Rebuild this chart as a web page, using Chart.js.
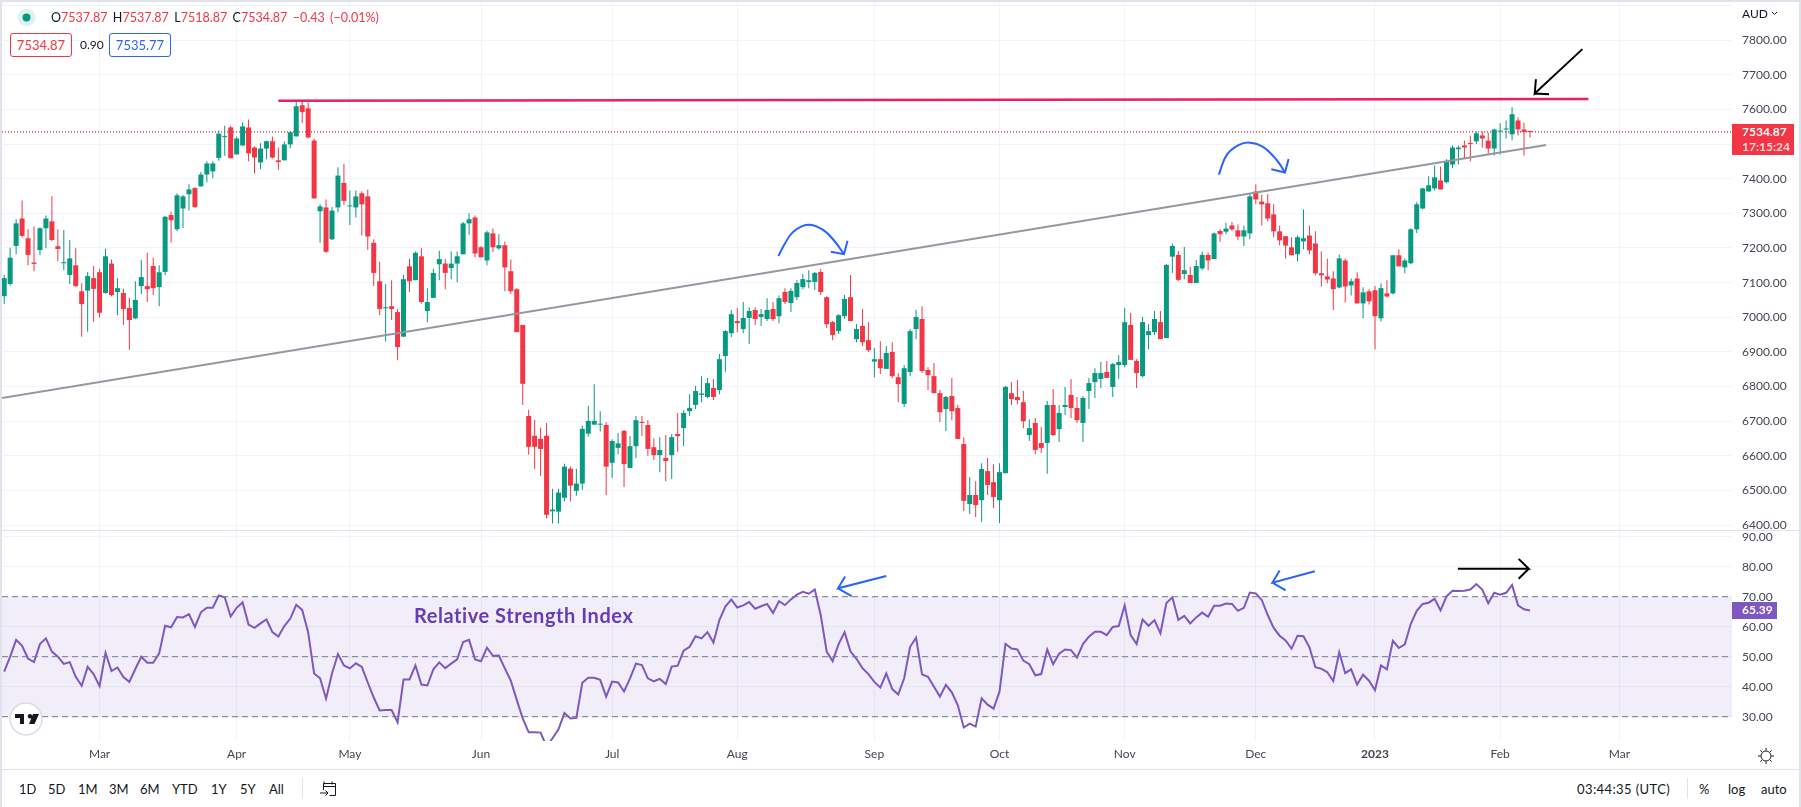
<!DOCTYPE html>
<html>
<head>
<meta charset="utf-8">
<title>AUD index daily with RSI</title>
<script src="https://cdn.jsdelivr.net/npm/chart.js@4/dist/chart.umd.min.js"></script>
<style>
  html, body { margin: 0; padding: 0; background: #fff; }
  #page { position: relative; width: 1801px; height: 807px; overflow: hidden; background: #fff; font-family: Lato, "Noto Sans", sans-serif; color: #131722; }
  canvas { position: absolute; left: 0; }
  #priceChart { top: 0; }
  #rsiChart { top: 531px; }
  .line { position: absolute; background: #e0e3eb; }
  .txt { position: absolute; white-space: nowrap; line-height: 16px; }
  .red { color: #f23645; }
  .box { position: absolute; top: 33px; height: 24px; line-height: 22px; border-radius: 3px; text-align: center; font-size: 13px; background: #fff; box-sizing: border-box; }
  .tool { top: 781px; font-size: 13px; }
</style>
</head>
<body>
<div id="page">
  <canvas id="priceChart" width="1801" height="531"></canvas>
  <canvas id="rsiChart" width="1801" height="238"></canvas>

  <div class="line" style="left:0;top:0;width:1801px;height:2px"></div>
  <div class="line" style="left:0;top:0;width:2px;height:807px"></div>
  <div class="line" style="left:1799px;top:0;width:2px;height:807px"></div>
  <div class="line" style="left:0;top:530px;width:1801px;height:1px"></div>
  <div class="line" style="left:0;top:769px;width:1801px;height:1px"></div>

  <!-- legend -->
  <svg style="position:absolute;left:17px;top:8px" width="19" height="19"><circle cx="9.5" cy="9.500" r="9" fill="#089981" opacity="0.13"/><circle cx="9.5" cy="9.500" r="4" fill="#089981"/></svg>
  <div class="txt" style="left:51px;top:10px;font-size:12.5px;word-spacing:2.200px">O<span class="red">7537.87</span> H<span class="red">7537.87</span> L<span class="red">7518.87</span> C<span class="red">7534.87</span> <span class="red">−0.43 (−0.01%)</span></div>
  <div class="box red" style="left:10px;width:62px;border:1px solid #f23645">7534.87</div>
  <div class="txt" style="left:80px;top:37px;font-size:12px">0.90</div>
  <div class="box" style="left:109px;width:62px;border:1px solid #2962ff;color:#2962ff">7535.77</div>

  <div class="txt" style="left:1742px;top:6px;font-size:12px">AUD <svg width="7" height="5" style="vertical-align:2px"><path d="M1 1l2.5 2.5L6 1" fill="none" stroke="#131722"/></svg></div>

  <div class="txt" style="left:414px;top:605px;font-size:20px;line-height:20px;font-weight:700;color:#673ab7;letter-spacing:.55px">Relative Strength Index</div>

  <!-- logo -->
  <svg style="position:absolute;left:9px;top:702px" width="34" height="34"><circle cx="17" cy="17" r="16" fill="#fff" stroke="#d8dbe3" stroke-width="1.5"/><path d="M6 12h9v10h-4v-6H6zM21 12a2.3 2.3 0 1 1-.01 0zM24 12h6l-4.5 10H20z" fill="#131722"/></svg>

  <!-- bottom toolbar -->
  <div class="txt tool" style="left:19px">1D</div>
  <div class="txt tool" style="left:48px">5D</div>
  <div class="txt tool" style="left:78px">1M</div>
  <div class="txt tool" style="left:109px">3M</div>
  <div class="txt tool" style="left:140px">6M</div>
  <div class="txt tool" style="left:172px">YTD</div>
  <div class="txt tool" style="left:211px">1Y</div>
  <div class="txt tool" style="left:240px">5Y</div>
  <div class="txt tool" style="left:269px">All</div>
  <div class="line" style="left:302px;top:778px;width:1px;height:21px"></div>
  <svg style="position:absolute;left:319px;top:780px" width="18" height="18" fill="none" stroke="#131722"><path d="M4.5 6.5h12M5 1.5v3M13 1.5v3M4.5 10V3.5h12v12h-6M1 13h8M6.5 10.5L9 13l-2.500 2.500"/></svg>
  <div class="txt tool" style="left:1577px;letter-spacing:.4px">03:44:35 (UTC)</div>
  <div class="line" style="left:1687px;top:778px;width:1px;height:21px"></div>
  <div class="txt tool" style="left:1699px">%</div>
  <div class="txt tool" style="left:1728px">log</div>
  <div class="txt tool" style="left:1761px">auto</div>
  <svg style="position:absolute;left:1757px;top:747px" width="18" height="18" fill="none" stroke="#131722"><circle cx="9" cy="9" r="5"/><path d="M9 1v2.500M9 14.500V17M1 9h2.500M14.500 9H17M3.300 3.300l1.800 1.800M12.900 12.900l1.800 1.800M3.300 14.700l1.800-1.800M12.900 5.100l1.800-1.800"/></svg>
</div>

<script>
// Daily candles, oldest first
const opens = [
  7061,7096,7206,7285,7228,7158,7194,7257,7277,7205,
  7156,7122,7150,7075,7077,7113,7130,7070,7155,7073,
  7070,7027,6997,7090,7090,7148,7087,7131,7295,7254,
  7314,7355,7373,7378,7412,7421,7460,7520,7548,7470,
  7496,7548,7490,7447,7487,7508,7453,7453,7499,7522,
  7612,7603,7510,7306,7317,7225,7317,7388,7320,7317,
  7358,7349,7215,7104,7026,7032,7015,6944,7147,7107,
  7176,7018,7056,7153,7155,7142,7155,7182,7271,7288,
  7202,7164,7242,7199,7208,7133,7081,6978,6715,6658,
  6649,6658,6440,6439,6479,6563,6499,6520,6664,6690,
  6690,6689,6580,6623,6672,6565,6628,6698,6689,6625,
  6602,6594,6602,6663,6680,6729,6747,6776,6770,6796,
  6790,6888,6954,6989,6966,6998,7021,7001,6995,7024,
  7003,7073,7041,7058,7087,7102,7102,7131,7058,6986,
  6960,7003,7058,6937,6975,6934,6872,6879,6851,6900,
  6827,6750,6842,6966,6995,6848,6830,6781,6735,6773,
  6738,6634,6461,6487,6472,6556,6524,6472,6550,6781,
  6770,6755,6660,6695,6637,6637,6747,6677,6741,6776,
  6738,6695,6787,6813,6822,6842,6799,6862,6862,6978,
  6874,6830,6949,6957,6986,6940,7175,7180,7125,7122,
  7099,7141,7180,7168,7249,7247,7265,7251,7233,7242,
  7363,7334,7329,7297,7248,7234,7202,7182,7219,7236,
  7213,7127,7118,7112,7086,7164,7092,7112,7040,7075,
  7078,6997,7069,7069,7179,7144,7156,7254,7314,7363,
  7372,7395,7390,7441,7485,7496,7503,7508,7525,7510,
  7487,7536,7542,7528,7568,7542,7537.87
];
const highs = [
  7122,7201,7283,7337,7254,7263,7260,7294,7349,7254,
  7252,7223,7199,7098,7130,7148,7140,7198,7167,7113,
  7083,7056,7104,7165,7186,7172,7150,7292,7305,7358,
  7353,7384,7375,7419,7450,7450,7539,7553,7553,7522,
  7563,7571,7493,7502,7510,7522,7490,7507,7537,7624,
  7624,7620,7515,7326,7340,7318,7433,7443,7366,7366,
  7364,7369,7225,7160,7096,7107,7024,7122,7170,7190,
  7199,7084,7140,7192,7168,7190,7190,7275,7300,7294,
  7206,7250,7256,7240,7218,7167,7084,6978,6733,6704,
  6681,6695,6505,6505,6577,6569,6563,6687,6744,6807,
  6729,6697,6648,6666,6675,6657,6715,6715,6703,6651,
  6654,6660,6663,6724,6732,6778,6802,6830,6825,6822,
  6894,6963,7021,7027,7044,7029,7029,7024,7055,7044,
  7063,7084,7084,7107,7125,7136,7131,7139,7061,6989,
  7009,7064,7122,6980,7024,6986,6911,6931,6917,6928,
  6839,6862,6966,7021,7032,6856,6868,6790,6773,6825,
  6747,6654,6539,6527,6579,6594,6576,6579,6802,6813,
  6819,6787,6706,6709,6683,6758,6793,6747,6799,6822,
  6770,6773,6825,6853,6871,6874,6868,6891,7027,7012,
  6879,7001,6980,7018,7018,7154,7213,7191,7203,7146,
  7165,7190,7187,7245,7254,7272,7275,7268,7265,7359,
  7384,7354,7355,7326,7265,7234,7231,7236,7311,7265,
  7248,7190,7169,7133,7181,7170,7112,7130,7087,7081,
  7090,7098,7107,7179,7196,7170,7257,7332,7374,7407,
  7438,7435,7456,7496,7496,7510,7525,7536,7536,7533,
  7544,7560,7568,7606,7577,7562,7537.87
];
const lows = [
  7038,7091,7182,7230,7150,7133,7179,7199,7220,7162,
  7136,7096,7088,6944,6958,6987,6999,7068,7061,7006,
  6978,6906,6994,7067,7044,7064,7032,7122,7215,7249,
  7258,7308,7316,7377,7390,7401,7452,7466,7459,7470,
  7494,7450,7415,7427,7456,7458,7425,7453,7488,7522,
  7560,7516,7343,7215,7186,7223,7303,7324,7266,7288,
  7236,7195,7090,7006,6930,6992,6876,6944,7073,7107,
  7040,6986,7056,7107,7081,7110,7101,7182,7238,7173,
  7173,7150,7188,7194,7075,7067,6957,6747,6603,6562,
  6542,6419,6405,6405,6468,6468,6485,6502,6656,6690,
  6670,6487,6536,6605,6510,6565,6594,6657,6600,6588,
  6553,6527,6533,6611,6628,6715,6735,6755,6766,6761,
  6778,6842,6943,6957,6954,6923,6978,6975,6989,6989,
  6983,7038,7015,7050,7081,7084,7079,7064,6969,6934,
  6952,6995,6989,6928,6917,6900,6827,6836,6851,6825,
  6755,6741,6830,6937,6839,6790,6781,6698,6672,6703,
  6649,6441,6432,6423,6409,6487,6449,6406,6550,6747,
  6750,6680,6643,6605,6608,6548,6657,6640,6718,6709,
  6695,6640,6735,6767,6796,6825,6770,6822,6856,6877,
  6796,6827,6908,6949,6937,6940,7128,7105,7110,7099,
  7099,7136,7136,7168,7218,7240,7249,7222,7206,7225,
  7326,7265,7277,7231,7207,7170,7179,7161,7196,7182,
  7121,7089,7098,7021,7083,7043,7063,7040,6997,7037,
  6907,6988,7057,7066,7147,7127,7153,7243,7311,7363,
  7366,7369,7387,7430,7441,7456,7450,7500,7489,7473,
  7467,7470,7516,7511,7525,7467,7518.87
];
const closes = [
  7113,7172,7271,7235,7180,7154,7257,7285,7223,7197,
  7158,7170,7090,7038,7119,7082,7013,7176,7064,7084,
  7024,6992,7050,7116,7081,7084,7130,7290,7280,7352,
  7349,7369,7318,7412,7444,7444,7530,7521,7459,7516,
  7551,7473,7461,7487,7508,7461,7448,7499,7534,7609,
  7592,7519,7343,7320,7189,7308,7409,7336,7322,7349,
  7326,7233,7128,7024,7028,7024,6914,7110,7104,7186,
  7044,7044,7128,7168,7128,7155,7176,7271,7283,7184,
  7173,7245,7202,7208,7144,7075,6957,6808,6626,6626,
  6620,6430,6445,6494,6569,6514,6520,6678,6701,6701,
  6692,6569,6643,6636,6576,6628,6703,6695,6620,6602,
  6617,6585,6654,6657,6724,6738,6787,6780,6810,6770,
  6879,6960,7009,6983,6998,7018,6995,7009,7021,6995,
  7055,7044,7076,7099,7110,7107,7128,7073,6980,6949,
  7006,7053,6989,6966,6928,6905,6879,6853,6897,6830,
  6807,6853,6960,7001,6845,6833,6781,6726,6770,6729,
  6649,6470,6487,6458,6562,6516,6481,6553,6799,6764,
  6761,6700,6680,6617,6623,6747,6660,6724,6747,6738,
  6703,6767,6810,6839,6839,6825,6865,6871,6986,6877,
  6839,6986,6960,6995,6937,7151,7206,7108,7136,7099,
  7148,7180,7164,7242,7240,7256,7254,7233,7251,7349,
  7340,7326,7285,7248,7222,7207,7179,7231,7228,7193,
  7127,7121,7109,7081,7170,7089,7104,7040,7072,7046,
  7003,7084,7060,7179,7147,7164,7254,7326,7372,7381,
  7404,7369,7450,7490,7490,7490,7500,7531,7516,7487,
  7542,7539,7545,7586,7542,7535,7534.87
];

// RSI for the same bars
const rsiValues = [
  45.0,50.0,55.6,53.6,49.4,48.2,54.2,56.1,51.7,50.0,
  47.6,48.2,43.3,40.3,46.6,44.2,40.2,51.3,45.2,46.4,
  43.2,41.6,45.9,50.0,48.0,48.0,51.1,60.3,59.8,63.2,
  63.1,64.2,59.9,64.8,66.3,66.3,70.4,69.8,63.4,66.3,
  68.1,60.7,59.6,61.1,62.4,58.2,56.7,60.2,62.7,67.3,
  65.6,58.1,44.4,42.8,36.0,44.4,50.9,47.1,46.1,47.8,
  46.6,41.4,36.4,32.1,32.2,32.2,28.1,42.4,42.4,47.1,
  40.7,40.4,45.8,48.1,46.2,47.7,49.1,54.9,55.6,49.1,
  48.5,53.0,50.3,50.4,46.1,42.0,35.6,29.4,24.8,24.8,
  24.7,20.0,22.8,25.8,31.2,29.4,29.6,41.3,43.0,43.0,
  42.3,36.7,41.7,41.4,38.4,42.8,47.7,47.2,42.8,41.8,
  42.6,40.9,46.7,47.0,52.0,53.3,56.8,56.1,58.2,54.7,
  62.2,66.7,69.0,66.4,67.1,68.2,66.0,66.8,67.6,64.6,
  68.5,67.2,69.1,70.7,71.6,71.0,72.4,63.9,51.7,48.5,
  54.2,58.2,51.7,49.3,46.2,44.2,41.6,39.7,44.4,39.2,
  37.4,42.8,53.3,56.3,44.1,43.3,40.0,36.7,40.6,38.1,
  33.8,26.4,27.7,26.7,36.1,34.0,32.7,38.4,54.3,52.7,
  52.4,48.7,47.5,43.8,44.2,52.4,47.5,51.0,52.4,52.2,
  49.7,54.2,56.7,58.3,58.3,57.2,59.9,60.2,67.1,57.2,
  54.2,62.4,60.3,62.2,57.8,67.9,69.8,62.3,63.6,61.1,
  63.1,64.7,63.3,67.0,67.0,67.7,67.6,65.3,66.3,71.4,
  71.1,68.9,63.9,59.6,57.0,55.4,52.7,57.0,56.8,53.1,
  46.5,46.0,44.8,41.9,51.5,44.5,45.8,40.7,44.0,42.0,
  38.8,47.1,45.8,55.3,52.9,54.1,60.9,65.3,67.6,68.0,
  69.3,65.4,70.1,72.0,71.9,72.0,72.4,74.2,72.4,67.8,
  71.3,70.7,71.3,73.9,67.1,65.8,65.39
];

const monthLabels = ['Mar','Apr','May','Jun','Jul','Aug','Sep','Oct','Nov','Dec','2023','Feb','Mar'];
const monthBars = [16,39,58,80,102,123,146,167,188,210,230,251,271];
const priceTicks = [6400,6500,6600,6700,6800,6900,7000,7100,7200,7300,7400,7500,7600,7700,7800,7900];
const rsiTicks = [30,40,50,60,70,80,90];
const rsiBands = [70,30,50];

// Window of the time axis, in bars
const barMin = -0.37;
const barMax = 289.9;
const lastPrice = 7534.87;
const lastRsi = 65.39;

// Hand drawn levels and arrows, as [bar, price] or [bar, rsi]
const resistanceLine = [[46,7625],[265.8,7630]];
const trendLine = [[-0.37,6767],[258.7,7497]];
const blackArrowPrice = [[264.8,7774],[256.8,7646],[257,7687],[256.8,7646],[259.2,7644]];
const blueCurveAug = [[129.9,7177],[131,7213],[132.4,7247],[134.9,7267],[137.4,7252],[139.4,7218],[140.9,7182]];
const blueHeadAug = [[141.5,7221],[140.9,7182],[138.7,7189]];
const blueCurveDec = [[203.8,7412],[205.1,7468],[207.1,7497],[209,7504],[211.2,7492],[213.5,7454],[214.9,7418]];
const blueHeadDec = [[215.5,7457],[214.9,7418],[212.6,7427]];
const blueArrowRsiAug = [[148,76.9],[139.9,72.8],[141.1,76.7],[139.9,72.8],[142.2,70.2]];
const blueArrowRsiDec = [[219.9,78.5],[212.8,74.7],[214,78.7],[212.8,74.7],[215,72.1]];
const blackArrowRsi = [[243.9,79.3],[255.8,79.3],[254.1,82.6],[255.8,79.3],[254.1,76]];

const GREEN = '#089981';
const RED = '#f23645';
const BLUE = '#2962ff';
const PURPLE = '#7e57c2';
const GRID = '#f0f3fa';
const AXIS_FONT = 'Lato, "Noto Sans", sans-serif';
const AXIS_COLOR = '#434651';

function toPoints(pairs) {
    return pairs.map(p => ({ x: p[0], y: p[1] }));
}

function drawnLine(pairs, color, width, tension) {
    return {
        type: 'line',
        data: toPoints(pairs),
        borderColor: color,
        borderWidth: width,
        pointRadius: 0,
        tension: tension || 0,
        order: 0
    };
}

// Labels stick out past the plot, so drop the room Chart.js keeps for them
function noLabelPadding(scale) {
    scale.paddingTop = 0;
    scale.paddingBottom = 0;
    scale.paddingLeft = 0;
    scale.paddingRight = 0;
}

function timeAxis(showLabels) {
    return {
        type: 'linear',
        min: barMin,
        max: barMax,
        offset: false,
        afterBuildTicks: scale => { scale.ticks = monthBars.map(v => ({ value: v })); },
        afterFit: scale => {
            scale.height = showLabels ? 28 : 0;
            noLabelPadding(scale);
        },
        grid: { color: GRID, drawTicks: false, tickLength: 0, offset: false },
        border: { display: false },
        ticks: {
            display: showLabels,
            autoSkip: false,
            maxRotation: 0,
            minRotation: 0,
            padding: 6,
            color: AXIS_COLOR,
            font: ctx => ({ family: AXIS_FONT, size: 12, weight: ctx.tick && ctx.tick.value === 230 ? '700' : '400' }),
            callback: v => monthLabels[monthBars.indexOf(v)]
        }
    };
}

function valueAxis(min, max, tickValues, callback) {
    return {
        position: 'right',
        min: min,
        max: max,
        afterBuildTicks: scale => { scale.ticks = tickValues.map(v => ({ value: v })); },
        afterFit: scale => {
            scale.width = 69;
            noLabelPadding(scale);
        },
        grid: { color: GRID, drawTicks: false, tickLength: 0 },
        border: { display: false },
        ticks: {
            padding: 10,
            color: AXIS_COLOR,
            font: { family: AXIS_FONT, size: 12 },
            callback: callback
        }
    };
}

// Coloured label on the axis at the last value
function axisTag(value, lines, color, width, height, above) {
    return {
        id: 'axisTag',
        afterDraw(chart) {
            const ctx = chart.ctx;
            const left = chart.chartArea.right;
            const y = chart.scales.y.getPixelForValue(value);
            const top = y - above;
            ctx.save();
            ctx.fillStyle = color;
            ctx.fillRect(left, top, width, height);
            ctx.fillStyle = '#fff';
            ctx.textBaseline = 'middle';
            ctx.font = '700 12px ' + AXIS_FONT;
            lines.forEach((text, i) => {
                ctx.globalAlpha = i === 0 ? 1 : 0.8;
                ctx.fillText(text, left + 10, y + i * 15);
            });
            ctx.restore();
        }
    };
}

const barColors = closes.map((c, i) => (c >= opens[i] ? GREEN : RED));
const wickData = highs.map((h, i) => ({ x: i, y: [lows[i], h] }));
const bodyData = closes.map((c, i) => ({ x: i, y: [opens[i], c] }));

new Chart(document.getElementById('priceChart'), {
    type: 'bar',
    data: {
        datasets: [
            drawnLine(resistanceLine, '#e91e63', 2.5),
            drawnLine(trendLine, '#9598a1', 2),
            drawnLine(blackArrowPrice, '#000', 2),
            drawnLine(blueCurveAug, BLUE, 2, 0.4),
            drawnLine(blueHeadAug, BLUE, 2),
            drawnLine(blueCurveDec, BLUE, 2, 0.4),
            drawnLine(blueHeadDec, BLUE, 2),
            { data: bodyData, backgroundColor: barColors, barThickness: 5, minBarLength: 1, grouped: false, inflateAmount: 0, order: 1 },
            { data: wickData, backgroundColor: barColors, barThickness: 1, grouped: false, inflateAmount: 0, order: 2 },
            Object.assign(drawnLine([[barMin, lastPrice], [barMax, lastPrice]], '#d81e3a', 1.3), { borderDash: [1, 2], order: 3 })
        ]
    },
    options: {
        responsive: false,
        animation: false,
        events: [],
        layout: { padding: { top: 2, bottom: 1, left: 2, right: 0 } },
        plugins: { legend: { display: false }, tooltip: { enabled: false } },
        scales: {
            x: timeAxis(false),
            y: valueAxis(6386, 7910, priceTicks, v => (v === 7900 ? '' : v.toFixed(2)))
        }
    },
    plugins: [axisTag(lastPrice, ['7534.87', '17:15:24'], RED, 62, 31, 8)]
});

const bandDatasets = rsiBands.map((level, i) => ({
    data: toPoints([[barMin, level], [barMax, level]]),
    borderColor: '#787b86',
    borderWidth: 1,
    borderDash: [6, 4],
    pointRadius: 0,
    fill: i === 0 ? { target: 1 } : false,
    backgroundColor: 'rgba(126, 87, 194, 0.1)'
}));

new Chart(document.getElementById('rsiChart'), {
    type: 'line',
    data: {
        datasets: bandDatasets.concat([
            { data: rsiValues.map((v, i) => ({ x: i, y: v })), borderColor: PURPLE, borderWidth: 2, pointRadius: 0 },
            drawnLine(blueArrowRsiAug, BLUE, 2),
            drawnLine(blueArrowRsiDec, BLUE, 2),
            drawnLine(blackArrowRsi, '#000', 2)
        ])
    },
    options: {
        responsive: false,
        animation: false,
        events: [],
        layout: { padding: { top: 0, bottom: 0, left: 2, right: 0 } },
        plugins: { legend: { display: false }, tooltip: { enabled: false } },
        scales: {
            x: timeAxis(true),
            y: valueAxis(21.9, 91.9, rsiTicks, v => v.toFixed(2))
        }
    },
    plugins: [axisTag(lastRsi, ['65.39'], PURPLE, 45, 17, 8.5)]
});
</script>
</body>
</html>
